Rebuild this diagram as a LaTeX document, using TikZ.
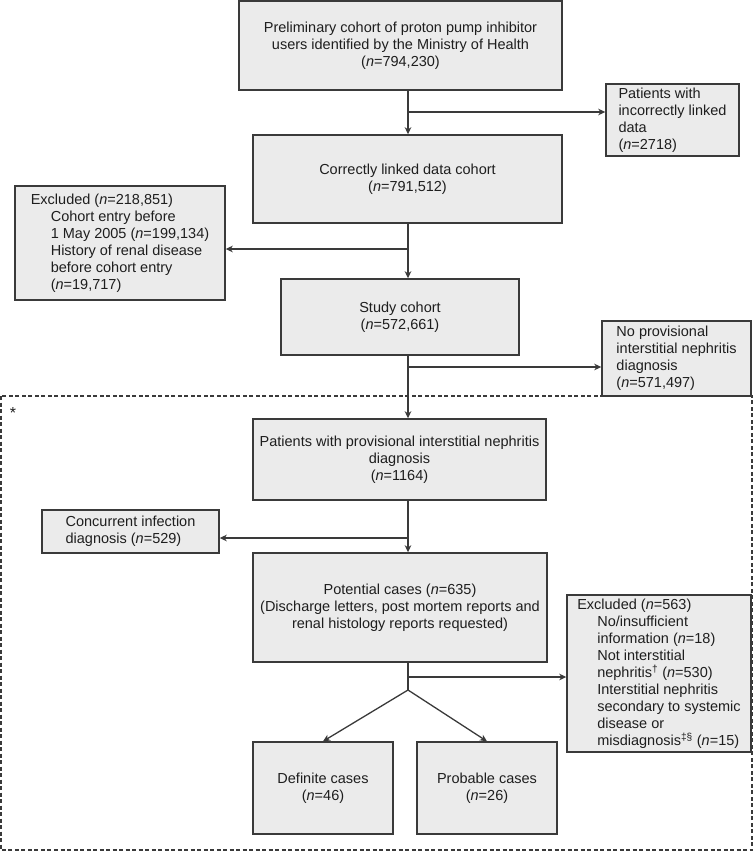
\documentclass[tikz,border=0pt]{standalone}
\usepackage{fontspec}
\setmainfont{Liberation Sans}
\usetikzlibrary{arrows.meta}
\definecolor{boxfill}{HTML}{EBEBEB}
\definecolor{boxline}{HTML}{3A3A3A}
\definecolor{txt}{HTML}{1E1E1E}
\newcommand{\nn}{\textit{n}=}
\newcommand{\ind}{\hspace*{20pt}}
\tikzset{
  boxstyle/.style={draw=boxline, fill=boxfill, line width=1.4pt, inner sep=2pt,
    text=txt, font=\fontsize{14.5}{17}\selectfont, align=center},
  sidebox/.style={boxstyle, align=left},
  arr/.style={draw=boxline, line width=1.3pt, -{Stealth[length=7pt,width=6.5pt,inset=2pt]}},
  plainline/.style={draw=boxline, line width=1.3pt},
}
\begin{document}
\begin{tikzpicture}[x=1pt,y=-1pt]
\useasboundingbox (0,0) rectangle (754,851);
% dashed frame
\draw[boxline, line width=1.4pt, dash pattern=on 4pt off 2.5pt] (1,396) rectangle (752,850);
\node[text=txt, font=\fontsize{16}{16}\selectfont] (star) at (13,413) {*};

\node[boxstyle, minimum width=323pt, minimum height=89pt] (top) at (400.5,45.5)
  {Preliminary cohort of proton pump inhibitor\\users identified by the Ministry of Health\\(\nn794,230)};
\node[sidebox, minimum width=133pt, minimum height=72pt] (inc) at (672.5,120)
  {Patients with\\incorrectly linked\\data\\(\nn2718)};
\node[boxstyle, minimum width=309pt, minimum height=88pt] (corr) at (407.5,179)
  {Correctly linked data cohort\\(\nn791,512)};
\node[sidebox, minimum width=210pt, minimum height=114pt] (excl1) at (120,243)
  {Excluded (\nn218,851)\\\ind Cohort entry before\\\ind 1 May 2005 (\nn199,134)\\\ind History of renal disease\\\ind before cohort entry\\\ind (\nn19,717)};
\node[boxstyle, minimum width=238pt, minimum height=76pt] (study) at (400,317)
  {Study cohort\\(\nn572,661)};
\node[sidebox, minimum width=149pt, minimum height=75pt] (noprov) at (676.5,358.5)
  {No provisional\\interstitial nephritis\\diagnosis\\(\nn571,497)};
\node[boxstyle, minimum width=293pt, minimum height=81pt] (pat) at (399.5,459.5)
  {Patients with provisional interstitial nephritis\\diagnosis\\(\nn1164)};
\node[sidebox, minimum width=177pt, minimum height=43pt] (conc) at (130.5,531.5)
  {Concurrent infection\\diagnosis (\nn529)};
\node[boxstyle, minimum width=294pt, minimum height=109pt] (pot) at (400,607.5)
  {Potential cases (\nn635)\\(Discharge letters, post mortem reports and\\renal histology reports requested)};
\node[sidebox, minimum width=184pt, minimum height=157pt] (excl2) at (659,673.5)
  {Excluded (\nn563)\\\ind No/insufficient\\\ind information (\nn18)\\\ind Not interstitial\\\ind nephritis\textsuperscript{†} (\nn530)\\\ind Interstitial nephritis\\\ind secondary to systemic\\\ind disease or\\\ind misdiagnosis\textsuperscript{‡§} (\nn15)};
\node[boxstyle, minimum width=140pt, minimum height=92pt] (def) at (323,788)
  {Definite cases\\(\nn46)};
\node[boxstyle, minimum width=140pt, minimum height=92pt] (prob) at (487,788)
  {Probable cases\\(\nn26)};

% spine coordinates
\coordinate (s1) at (408,112);
\coordinate (s2) at (408,249);
\coordinate (s3) at (408,367);
\coordinate (s4) at (408,538);
\coordinate (s5) at (408,677);
\coordinate (split) at (408,690);

\draw[arr] (top.south -| s1) -- (corr.north -| s1);
\draw[arr] (s1) -- (s1 -| inc.west);
\draw[arr] (corr.south -| s2) -- (study.north -| s2);
\draw[arr] (s2) -- (s2 -| excl1.east);
\draw[arr] (study.south -| s3) -- (pat.north -| s3);
\draw[arr] (s3) -- (s3 -| noprov.west);
\draw[arr] (pat.south -| s4) -- (pot.north -| s4);
\draw[arr] (s4) -- (s4 -| conc.east);
\draw[plainline] (pot.south -| s5) -- (split);
\draw[arr] (s5) -- (s5 -| excl2.west);
\draw[arr] (split) -- (def.north);
\draw[arr] (split) -- (prob.north);
\end{tikzpicture}
\end{document}
